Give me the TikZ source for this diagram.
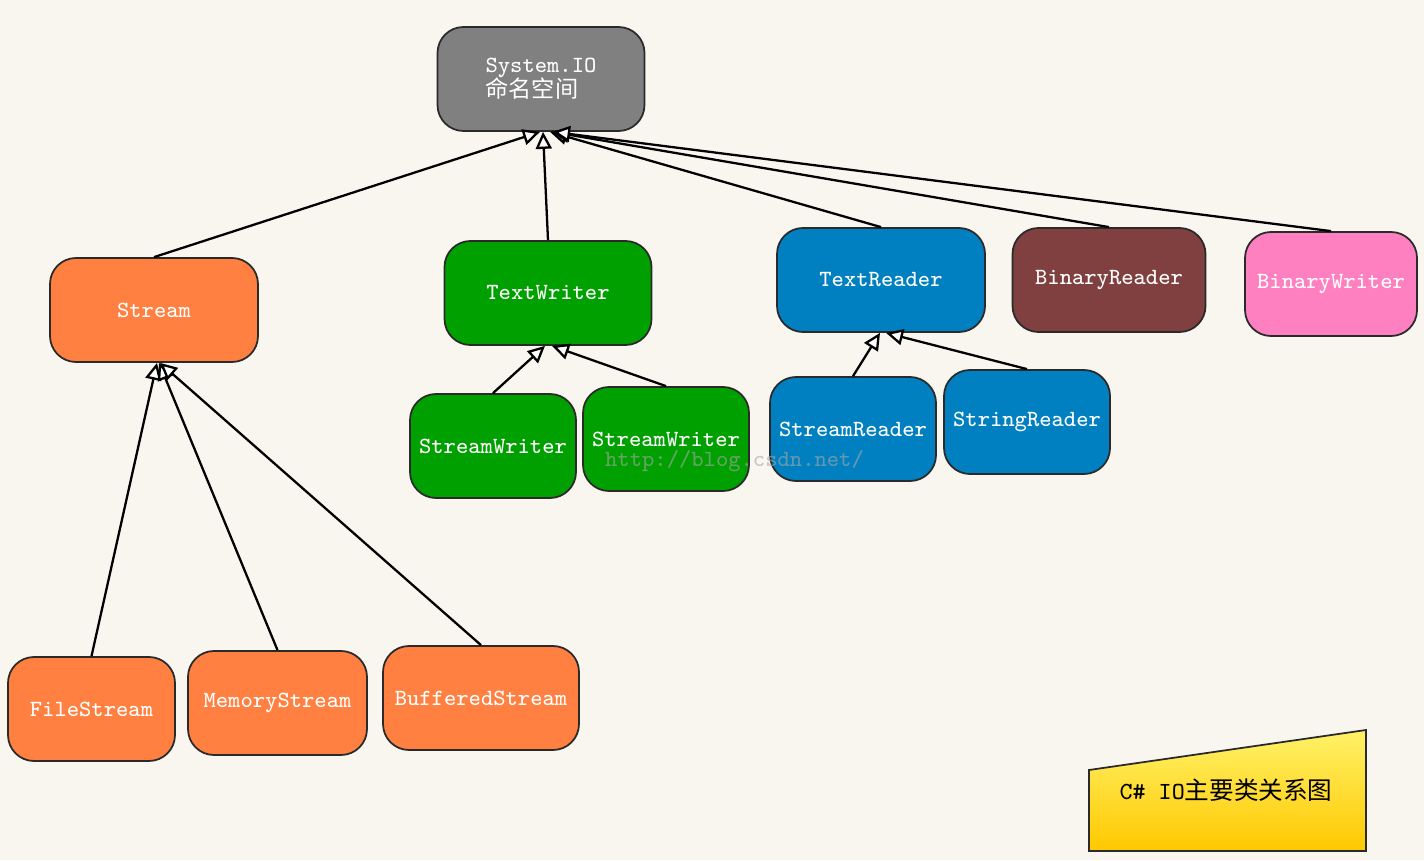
\documentclass[tikz,border=0pt]{standalone}
\usepackage{fontspec}
\usepackage{tikz}
\usetikzlibrary{arrows.meta,positioning,calc}
\newfontfamily\cjk{Noto Sans CJK SC}
\definecolor{paper}{HTML}{F9F6F0}
\definecolor{edge}{HTML}{2A2A2A}
\definecolor{iogray}{HTML}{808080}
\definecolor{strorange}{HTML}{FF8040}
\definecolor{wgreen}{HTML}{00A000}
\definecolor{rblue}{HTML}{0080C0}
\definecolor{bbrown}{HTML}{804040}
\definecolor{bpink}{HTML}{FF80C0}
\definecolor{notetop}{HTML}{FFF268}
\definecolor{notebot}{HTML}{FFC800}
\tikzset{cls/.style={rectangle,rounded corners=.26cm,draw=edge,line width=.5pt,
    minimum height=1.04cm,inner sep=0pt,text=white,
    font=\ttfamily\fontsize{6.6}{8}\selectfont},
  inh/.style={line width=.65pt,-{Triangle[fill=white,length=1.7mm,width=1.6mm]}}}
\begin{document}
\begin{tikzpicture}[x=1cm,y=1cm]
\fill[paper] (0,0) rectangle (14.24,8.6);
\useasboundingbox (0,0) rectangle (14.24,8.6);
% namespace
\node[cls,fill=iogray,minimum width=2.07cm,align=left] (io) at (5.41,7.81)
  {System.IO\\[-1pt]{\cjk 命名空间}};
% main classes
\node[cls,fill=strorange,minimum width=2.08cm] (stream) at (1.54,5.50) {Stream};
\node[cls,fill=wgreen,minimum width=2.07cm] (tw) at (5.48,5.67) {TextWriter};
\node[cls,fill=rblue,minimum width=2.08cm] (tr) at (8.81,5.80) {TextReader};
\node[cls,fill=bbrown,minimum width=1.93cm] (br) at (11.09,5.80) {BinaryReader};
\node[cls,fill=bpink,minimum width=1.72cm] (bw) at (13.31,5.76) {BinaryWriter};
% derived classes
\node[cls,fill=wgreen,minimum width=1.66cm] (sw1) at (4.93,4.14) {StreamWriter};
\node[cls,fill=wgreen,minimum width=1.66cm] (sw2) at (6.66,4.21) {StreamWriter};
\node[cls,fill=rblue,minimum width=1.66cm] (sr) at (8.53,4.31) {StreamReader};
\node[cls,fill=rblue,minimum width=1.66cm] (strr) at (10.27,4.38) {StringReader};
\node[cls,fill=strorange,minimum width=1.67cm] (fs) at (0.915,1.51) {FileStream};
\node[cls,fill=strorange,minimum width=1.79cm] (ms) at (2.775,1.57) {MemoryStream};
\node[cls,fill=strorange,minimum width=1.96cm] (bs) at (4.81,1.62) {BufferedStream};
% inheritance
\draw[inh] (stream.north) -- ([xshift=-.1mm]io.south);
\draw[inh] (tw.north) -- ([xshift=.2mm]io.south);
\draw[inh] (tr.north) -- ([xshift=.9mm]io.south);
\draw[inh] (br.north) -- ([xshift=1.1mm]io.south);
\draw[inh] (bw.north) -- ([xshift=1.2mm]io.south);
\draw[inh] (sw1.north) -- ([xshift=-.3mm]tw.south);
\draw[inh] (sw2.north) -- ([xshift=.4mm]tw.south);
\draw[inh] (sr.north) -- ([xshift=-.1mm]tr.south);
\draw[inh] (strr.north) -- ([xshift=.5mm]tr.south);
\draw[inh] (fs.north) -- ([xshift=.3mm]stream.south);
\draw[inh] (ms.north) -- ([xshift=.5mm]stream.south);
\draw[inh] (bs.north) -- ([xshift=.6mm]stream.south);
% watermark
\node[text=gray!70,opacity=.6,font=\ttfamily\fontsize{6.6}{8}\selectfont] (mark) at (7.345,3.99)
  {http://blog.csdn.net/};
% title note
\shade[top color=notetop,bottom color=notebot,draw=edge,line width=.5pt]
  (10.89,.09) -- (10.89,.90) -- (13.66,1.30) -- (13.66,.09) -- cycle;
\node[font=\ttfamily\fontsize{7}{8}\selectfont] (title) at (12.26,.70)
  {C\# IO{\cjk 主要类关系图}};
\end{tikzpicture}
\end{document}
